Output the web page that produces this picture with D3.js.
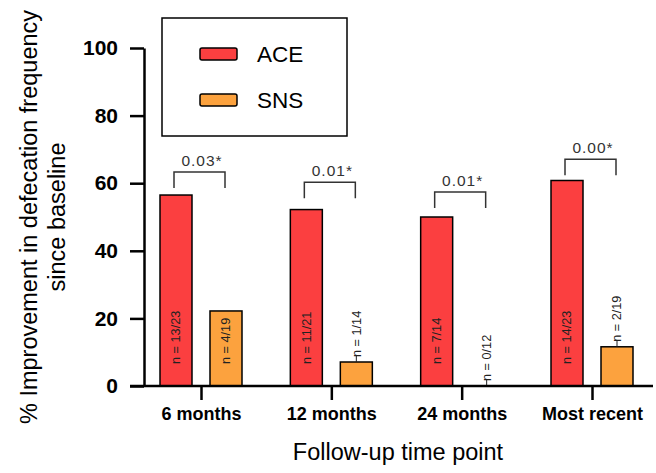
<!DOCTYPE html>
<html>
<head>
<meta charset="utf-8">
<script src="https://cdn.jsdelivr.net/npm/d3@7"></script>
<style>
body { margin: 0; background: white; }
text { font-family: "Liberation Sans", Arial, sans-serif; }
</style>
</head>
<body>
<script>
var categories = ["6 months", "12 months", "24 months", "Most recent"];
var series = ["ACE", "SNS"];
var aceValues = [56.5, 52.2, 50, 60.8];
var snsValues = [22.2, 7.1, 0, 11.6];
var aceLabels = ["n = 13/23", "n = 11/21", "n = 7/14", "n = 14/23"];
var snsLabels = ["n = 4/19", "n = 1/14", "n = 0/12", "n = 2/19"];
var pValues = ["0.03*", "0.01*", "0.01*", "0.00*"];
var bracketLevels = [63.3, 60.3, 57.4, 67.1];
var yTicks = [0, 20, 40, 60, 80, 100];

var colors = { ACE: "#fb3f40", SNS: "#fca23e" };

var width = 656, height = 473;

var svg = d3.select("body").append("svg")
	.attr("width", width)
	.attr("height", height)

var y = d3.scaleLinear()
	.domain([0, 100])
	.range([386, 48])

var x = d3.scalePoint()
	.domain(categories)
	.range([201, 592])

var inner = d3.scaleBand()
	.domain(series)
	.range([-41, 41])
	.paddingInner(0.36)

// bars
var rows = categories.map((c, i) => ({
	cat: c,
	ACE: aceValues[i], SNS: snsValues[i],
	aceLabel: aceLabels[i], snsLabel: snsLabels[i],
	p: pValues[i], level: bracketLevels[i]
}));

var groups = svg.append("g").selectAll("g")
	.data(rows)
	.enter().append("g")
		.attr("transform", d => "translate(" + x(d.cat) + ",0)")

groups.selectAll("rect")
	.data(d => series.map(s => ({ s: s, v: d[s] })).filter(e => e.v > 0))
	.enter().append("rect")
		.attr("x", e => inner(e.s))
		.attr("y", e => y(e.v))
		.attr("width", inner.bandwidth())
		.attr("height", e => y(0) - y(e.v))
		.attr("fill", e => colors[e.s])
		.attr("stroke", "black")
		.attr("stroke-width", 1.5)

// n labels
var aceCx = inner("ACE") + inner.bandwidth()/2;
var snsCx = inner("SNS") + inner.bandwidth()/2;

groups.append("text")
	.attr("transform", "translate(" + aceCx + "," + (y(0) - 22) + ") rotate(-90)")
	.attr("dy", "0.35em")
	.attr("font-size", 12.7)
	.attr("fill", "#222")
	.text(d => d.aceLabel)

groups.each(function(d) {
	var g = d3.select(this);
	var top = y(d.SNS);
	var inside = d.SNS > 15;
	var start = inside ? y(0) - 22 : top - 5;
	if (!inside) {
		g.append("line")
			.attr("x1", snsCx).attr("x2", snsCx)
			.attr("y1", top).attr("y2", top - 6)
			.attr("stroke", "#222")
			.attr("stroke-width", 1)
	}
	g.append("text")
		.attr("transform", "translate(" + snsCx + "," + start + ") rotate(-90)")
		.attr("dy", "0.35em")
		.attr("font-size", 12.7)
		.attr("fill", "#222")
		.text(d.snsLabel)
});

// significance brackets
groups.each(function(d) {
	var g = d3.select(this);
	var by = y(d.level);
	g.append("path")
		.attr("d", "M" + (aceCx - 2) + "," + (by + 16) + "V" + by + "H" + (snsCx - 1) + "V" + (by + 16))
		.attr("fill", "none")
		.attr("stroke", "#333")
		.attr("stroke-width", 1.5)
	g.append("text")
		.attr("x", (aceCx + snsCx)/2 + 1)
		.attr("y", by - 6)
		.attr("text-anchor", "middle")
		.attr("font-size", 15.5)
		.attr("letter-spacing", 1)
		.attr("fill", "#333")
		.text(d.p)
});

// y axis
var yAxis = svg.append("g")
	.attr("transform", "translate(144,0)")
	.call(d3.axisLeft(y).tickValues(yTicks).tickSize(14).tickPadding(12).tickSizeOuter(0))
yAxis.selectAll("line, path").attr("stroke", "black").attr("stroke-width", 2.5)
yAxis.selectAll("text")
	.attr("font-size", 21)
	.attr("font-weight", "bold")
	.attr("fill", "black")
	.style("font-family", "'Liberation Sans', Arial, sans-serif")

// x axis
var xAxis = svg.append("g")
	.attr("transform", "translate(0," + y(0) + ")")
	.call(d3.axisBottom(x).tickSize(14).tickPadding(7).tickSizeOuter(0))
xAxis.select(".domain").attr("d", "M130,0H653")
xAxis.selectAll("line, path").attr("stroke", "black").attr("stroke-width", 2.5)
xAxis.selectAll("text")
	.attr("font-size", 18)
	.attr("font-weight", "bold")
	.attr("fill", "black")
	.style("font-family", "'Liberation Sans', Arial, sans-serif")

// axis titles
svg.append("text")
	.attr("transform", "translate(398,460)")
	.attr("text-anchor", "middle")
	.attr("font-size", 23.5)
	.text("Follow-up time point")

var yTitle = svg.append("text")
	.attr("transform", "translate(0,217) rotate(-90)")
	.attr("text-anchor", "middle")
	.attr("font-size", 23.5)
yTitle.append("tspan").attr("x", 0).attr("y", 37).text("% Improvement in defecation frequency")
yTitle.append("tspan").attr("x", 0).attr("y", 65).text("since baseline")

// legend
svg.append("rect")
	.attr("x", 162).attr("y", 18)
	.attr("width", 185).attr("height", 118)
	.attr("fill", "white")
	.attr("stroke", "black")
	.attr("stroke-width", 1.5)

var legendItems = svg.append("g").selectAll("g")
	.data(series)
	.enter().append("g")
		.attr("transform", (s, i) => "translate(200," + (54 + i*46) + ")")
legendItems.append("rect")
	.attr("x", 0).attr("y", -6)
	.attr("width", 37).attr("height", 12)
	.attr("rx", 2)
	.attr("fill", s => colors[s])
	.attr("stroke", "black")
	.attr("stroke-width", 1.5)
legendItems.append("text")
	.attr("x", 57)
	.attr("dy", "0.36em")
	.attr("font-size", 22.5)
	.text(s => s)
</script>
</body>
</html>
